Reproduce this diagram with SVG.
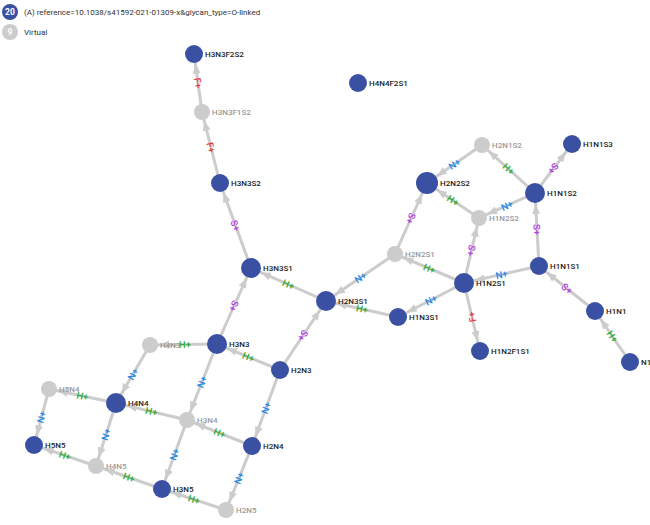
<svg xmlns="http://www.w3.org/2000/svg" width="650" height="525" viewBox="0 0 650 525">
<style>
.e{stroke:#cccccc;stroke-width:3;fill:none}
.r8{marker-end:url(#a8)}.r9{marker-end:url(#a9)}.r10{marker-end:url(#a10)}.r11{marker-end:url(#a11)}
.lb{font-family:Roboto,"Liberation Sans",sans-serif;font-size:9.5px;font-weight:500;text-anchor:middle;dominant-baseline:central}
.H{fill:#2eaa2e}.N{fill:#1e88e5}.S{fill:#b23ce0}.F{fill:#e53935}
.b{fill:#3a51a3}.v{fill:#cccccc}
.t{font-family:Roboto,"Liberation Sans",sans-serif;font-size:8px;font-weight:500;fill:#222}
.tv{font-family:Roboto,"Liberation Sans",sans-serif;font-size:8px;font-weight:500;fill:#999}
.lg{font-family:Roboto,"Liberation Sans",sans-serif;font-size:8px;fill:#333}
.lgn{font-family:Roboto,"Liberation Sans",sans-serif;font-size:8.5px;font-weight:700;fill:#fff;text-anchor:middle}
</style>
<defs>
<marker id="a8" markerUnits="userSpaceOnUse" markerWidth="12" markerHeight="10" refX="19" refY="4" orient="auto"><path d="M0,0L10,4L0,8z" fill="#cccccc"/></marker>
<marker id="a9" markerUnits="userSpaceOnUse" markerWidth="12" markerHeight="10" refX="20" refY="4" orient="auto"><path d="M0,0L10,4L0,8z" fill="#cccccc"/></marker>
<marker id="a10" markerUnits="userSpaceOnUse" markerWidth="12" markerHeight="10" refX="21" refY="4" orient="auto"><path d="M0,0L10,4L0,8z" fill="#cccccc"/></marker>
<marker id="a11" markerUnits="userSpaceOnUse" markerWidth="12" markerHeight="10" refX="22" refY="4" orient="auto"><path d="M0,0L10,4L0,8z" fill="#cccccc"/></marker>
</defs>
<rect width="650" height="525" fill="#ffffff"/>
<g id="legend">
<circle cx="10" cy="12" r="8" class="b"/><text x="10" y="15" class="lgn">20</text>
<text x="24" y="15" class="lg">(A) reference=10.1038/s41592-021-01309-x&amp;glycan_type=O-linked</text>
<circle cx="10" cy="32" r="8" class="v"/><text x="10" y="35" class="lgn">9</text>
<text x="24" y="35" class="lg">Virtual</text>
</g>
<g id="edges">
<line class="e r9" x1="202" y1="112" x2="194" y2="54"/>
<line class="e r8" x1="220" y1="183" x2="202" y2="112"/>
<line class="e r9" x1="251" y1="268" x2="220" y2="183"/>
<line class="e r10" x1="326" y1="301" x2="251" y2="268"/>
<line class="e r10" x1="217" y1="344" x2="251" y2="268"/>
<line class="e r10" x1="395" y1="254" x2="326" y2="301"/>
<line class="e r10" x1="398" y1="317" x2="326" y2="301"/>
<line class="e r10" x1="280" y1="370" x2="326" y2="301"/>
<line class="e r8" x1="464" y1="283" x2="395" y2="254"/>
<line class="e r11" x1="395" y1="254" x2="427" y2="183"/>
<line class="e r11" x1="479" y1="218" x2="427" y2="183"/>
<line class="e r11" x1="482" y1="145" x2="427" y2="183"/>
<line class="e r8" x1="535" y1="193" x2="482" y2="145"/>
<line class="e r8" x1="535" y1="193" x2="479" y2="218"/>
<line class="e r9" x1="535" y1="193" x2="572" y2="144"/>
<line class="e r10" x1="539" y1="266" x2="535" y2="193"/>
<line class="e r8" x1="464" y1="283" x2="479" y2="218"/>
<line class="e r10" x1="539" y1="266" x2="464" y2="283"/>
<line class="e r9" x1="464" y1="283" x2="398" y2="317"/>
<line class="e r9" x1="464" y1="283" x2="480" y2="351"/>
<line class="e r9" x1="595" y1="311" x2="539" y2="266"/>
<line class="e r9" x1="630" y1="362" x2="595" y2="311"/>
<line class="e r10" x1="280" y1="370" x2="217" y2="344"/>
<line class="e r8" x1="217" y1="344" x2="150" y2="345"/>
<line class="e r8" x1="217" y1="344" x2="187" y2="420"/>
<line class="e r9" x1="280" y1="370" x2="252" y2="446"/>
<line class="e r10" x1="150" y1="345" x2="116" y2="403"/>
<line class="e r10" x1="187" y1="420" x2="116" y2="403"/>
<line class="e r8" x1="252" y1="446" x2="187" y2="420"/>
<line class="e r8" x1="116" y1="403" x2="49" y2="389"/>
<line class="e r8" x1="116" y1="403" x2="96" y2="466"/>
<line class="e r9" x1="49" y1="389" x2="34" y2="445"/>
<line class="e r9" x1="96" y1="466" x2="34" y2="445"/>
<line class="e r9" x1="187" y1="420" x2="162" y2="489"/>
<line class="e r8" x1="162" y1="489" x2="96" y2="466"/>
<line class="e r8" x1="252" y1="446" x2="226" y2="510"/>
<line class="e r9" x1="226" y1="510" x2="162" y2="489"/>
<g id="edge-labels">
<text class="lb F" transform="translate(198,83) rotate(82.1)">F+</text>
<text class="lb F" transform="translate(211,147.5) rotate(75.8)">F+</text>
<text class="lb S" transform="translate(235.5,225.5) rotate(70)">S+</text>
<text class="lb H" transform="translate(288.5,284.5) rotate(23.7)">H+</text>
<text class="lb S" transform="translate(234,306) rotate(114.1)">S+</text>
<text class="lb N" transform="translate(360.5,277.5) rotate(-34.3)">N+</text>
<text class="lb H" transform="translate(362,309) rotate(12.5)">H+</text>
<text class="lb S" transform="translate(303,335.5) rotate(123.7)">S+</text>
<text class="lb H" transform="translate(429.5,268.5) rotate(22.8)">H+</text>
<text class="lb S" transform="translate(411,218.5) rotate(114.3)">S+</text>
<text class="lb H" transform="translate(453,200.5) rotate(33.9)">H+</text>
<text class="lb N" transform="translate(454.5,164) rotate(-34.6)">N+</text>
<text class="lb H" transform="translate(508.5,169) rotate(42.2)">H+</text>
<text class="lb N" transform="translate(507,205.5) rotate(-24.1)">N+</text>
<text class="lb S" transform="translate(553.5,168.5) rotate(127)">S+</text>
<text class="lb S" transform="translate(537,229.5) rotate(86.9)">S+</text>
<text class="lb S" transform="translate(471.5,250.5) rotate(103)">S+</text>
<text class="lb N" transform="translate(501.5,274.5) rotate(-12.8)">N+</text>
<text class="lb N" transform="translate(431,300) rotate(-27.3)">N+</text>
<text class="lb F" transform="translate(472,317) rotate(-103.2)">F+</text>
<text class="lb S" transform="translate(567,288.5) rotate(38.8)">S+</text>
<text class="lb H" transform="translate(612.5,336.5) rotate(55.5)">H+</text>
<text class="lb H" transform="translate(248.5,357) rotate(22.4)">H+</text>
<text class="lb H" transform="translate(185,344.5) rotate(-0.9)">H+</text>
<text class="lb N" transform="translate(202,382) rotate(-68.5)">N+</text>
<text class="lb N" transform="translate(266,408) rotate(-69.8)">N+</text>
<text class="lb N" transform="translate(133,374) rotate(-59.6)">N+</text>
<text class="lb H" transform="translate(151.5,411.5) rotate(13.5)">H+</text>
<text class="lb H" transform="translate(219.5,433) rotate(21.8)">H+</text>
<text class="lb H" transform="translate(82.5,396) rotate(11.8)">H+</text>
<text class="lb N" transform="translate(106,434.5) rotate(-72.4)">N+</text>
<text class="lb N" transform="translate(41.5,417) rotate(-75)">N+</text>
<text class="lb H" transform="translate(65,455.5) rotate(18.7)">H+</text>
<text class="lb N" transform="translate(174.5,454.5) rotate(-70.1)">N+</text>
<text class="lb H" transform="translate(129,477.5) rotate(19.2)">H+</text>
<text class="lb N" transform="translate(239,478) rotate(-67.9)">N+</text>
<text class="lb H" transform="translate(194,499.5) rotate(18.2)">H+</text>
</g>
</g>
<g id="H3N3F2S2"><circle cx="194" cy="54" r="9" class="b"/><text x="205" y="57" class="t">H3N3F2S2</text></g>
<g id="H3N3F1S2"><circle cx="202" cy="112" r="8" class="v"/><text x="212" y="115" class="tv">H3N3F1S2</text></g>
<g id="H3N3S2"><circle cx="220" cy="183" r="9" class="b"/><text x="231" y="186" class="t">H3N3S2</text></g>
<g id="H4N4F2S1"><circle cx="358" cy="83" r="9" class="b"/><text x="369" y="86" class="t">H4N4F2S1</text></g>
<g id="H2N1S2"><circle cx="482" cy="145" r="8" class="v"/><text x="492" y="148" class="tv">H2N1S2</text></g>
<g id="H1N1S3"><circle cx="572" cy="144" r="9" class="b"/><text x="583" y="147" class="t">H1N1S3</text></g>
<g id="H2N2S2"><circle cx="427" cy="183" r="11" class="b"/><text x="440" y="186" class="t">H2N2S2</text></g>
<g id="H1N1S2"><circle cx="535" cy="193" r="10" class="b"/><text x="547" y="196" class="t">H1N1S2</text></g>
<g id="H1N2S2"><circle cx="479" cy="218" r="8" class="v"/><text x="489" y="221" class="tv">H1N2S2</text></g>
<g id="H2N2S1"><circle cx="395" cy="254" r="8" class="v"/><text x="405" y="257" class="tv">H2N2S1</text></g>
<g id="H3N3S1"><circle cx="251" cy="268" r="10" class="b"/><text x="263" y="271" class="t">H3N3S1</text></g>
<g id="H1N1S1"><circle cx="539" cy="266" r="9" class="b"/><text x="550" y="269" class="t">H1N1S1</text></g>
<g id="H2N3S1"><circle cx="326" cy="301" r="10" class="b"/><text x="338" y="304" class="t">H2N3S1</text></g>
<g id="H1N2S1"><circle cx="464" cy="283" r="10" class="b"/><text x="476" y="286" class="t">H1N2S1</text></g>
<g id="H1N3S1"><circle cx="398" cy="317" r="9" class="b"/><text x="409" y="320" class="t">H1N3S1</text></g>
<g id="H1N1"><circle cx="595" cy="311" r="9" class="b"/><text x="606" y="314" class="t">H1N1</text></g>
<g id="N1"><circle cx="630" cy="362" r="9" class="b"/><text x="641" y="365" class="t">N1</text></g>
<g id="H1N2F1S1"><circle cx="480" cy="351" r="9" class="b"/><text x="491" y="354" class="t">H1N2F1S1</text></g>
<g id="H3N3"><circle cx="217" cy="344" r="10" class="b"/><text x="229" y="347" class="t">H3N3</text></g>
<g id="H4N3"><circle cx="150" cy="345" r="8" class="v"/><text x="160" y="348" class="tv">H4N3</text></g>
<g id="H2N3"><circle cx="280" cy="370" r="9" class="b"/><text x="291" y="373" class="t">H2N3</text></g>
<g id="H5N4"><circle cx="49" cy="389" r="8" class="v"/><text x="59" y="392" class="tv">H5N4</text></g>
<g id="H4N4"><circle cx="116" cy="403" r="10" class="b"/><text x="128" y="406" class="t">H4N4</text></g>
<g id="H3N4"><circle cx="187" cy="420" r="8" class="v"/><text x="197" y="423" class="tv">H3N4</text></g>
<g id="H2N4"><circle cx="252" cy="446" r="9" class="b"/><text x="263" y="449" class="t">H2N4</text></g>
<g id="H5N5"><circle cx="34" cy="445" r="9" class="b"/><text x="45" y="448" class="t">H5N5</text></g>
<g id="H4N5"><circle cx="96" cy="466" r="8" class="v"/><text x="106" y="469" class="tv">H4N5</text></g>
<g id="H3N5"><circle cx="162" cy="489" r="9" class="b"/><text x="173" y="492" class="t">H3N5</text></g>
<g id="H2N5"><circle cx="226" cy="510" r="8" class="v"/><text x="236" y="513" class="tv">H2N5</text></g>
</svg>
